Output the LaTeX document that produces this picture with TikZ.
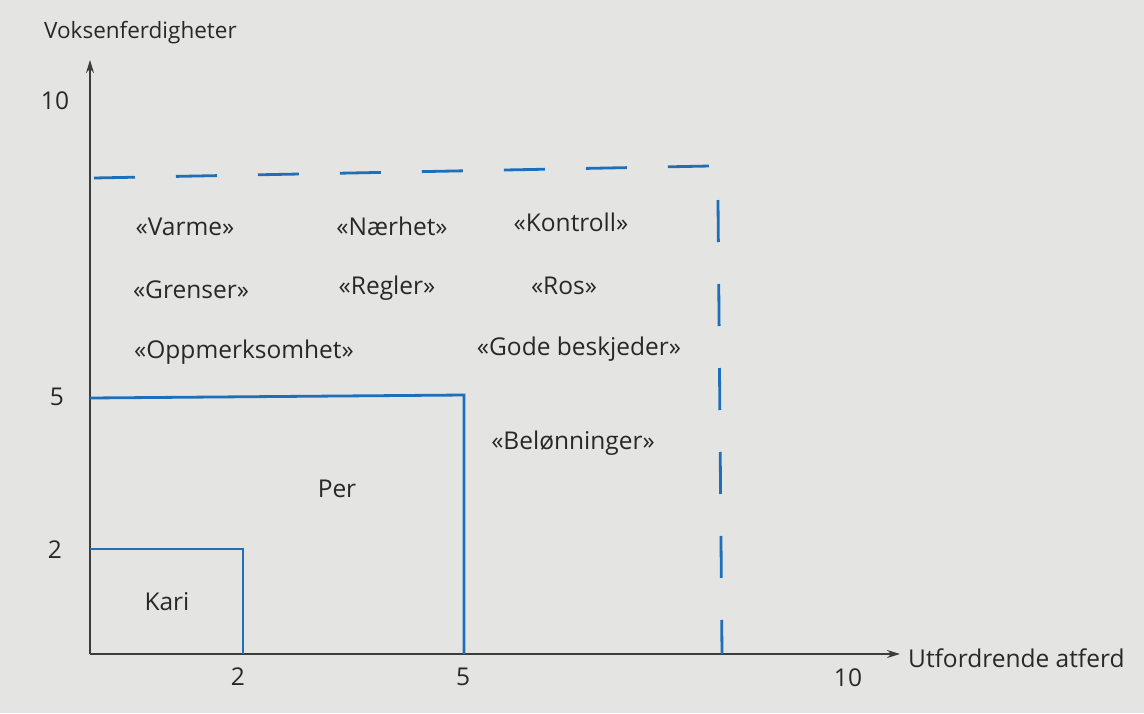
\documentclass[tikz,border=0pt]{standalone}
\usepackage{fontspec}
\setmainfont{Open Sans}
\usetikzlibrary{arrows.meta}
\definecolor{paper}{RGB}{228,228,226}
\definecolor{ink}{RGB}{40,40,40}
\definecolor{axisgray}{RGB}{60,60,60}
\definecolor{chartblue}{RGB}{30,110,185}
\tikzset{
  axisline/.style={draw=axisgray, line width=1.6pt, -{Stealth[length=13pt,width=8pt]}},
  blueline/.style={draw=chartblue, line width=2.8pt},
  bluedash/.style={draw=chartblue, line width=2.8pt, dash pattern=on 41pt off 41pt},
  lbl/.style={text=ink, inner sep=0pt, font=\fontsize{24.5}{29}\selectfont},
  word/.style={lbl},
}
\begin{document}
\begin{tikzpicture}[x=1pt,y=-1pt]
\useasboundingbox (0,0) rectangle (1144,713);
\fill[paper] (0,0) rectangle (1144,713);

% axes
\coordinate (O) at (90,654);
\coordinate (ytip) at (90,60);
\coordinate (xtip) at (900,654);
\draw[axisline] (O) -- (ytip);
\draw[axisline] (O) -- (xtip);

\node[lbl, anchor=west, font=\fontsize{22.5}{27}\selectfont] (ylab) at (44,33) {Voksenferdigheter};
\node[lbl, anchor=west] (xlab) at (908,658) {Utfordrende atferd};

% tick numbers
\node[lbl] (y10) at (55,101) {10};
\node[lbl] (y5)  at (57,397) {5};
\node[lbl] (y2)  at (55,550) {2};
\node[lbl] (x2)  at (238,677) {2};
\node[lbl] (x5)  at (463,677) {5};
\node[lbl] (x10) at (848,678) {10};

% Kari and Per
\coordinate (kariA) at (90,549);
\coordinate (kariB) at (243,549);
\coordinate (kariC) at (243,654);
\draw[blueline] (kariA) -- (kariB) -- (kariC);
\coordinate (perA) at (90,398);
\coordinate (perB) at (464,395);
\coordinate (perC) at (464,654);
\draw[blueline] (perA) -- (perB) -- (perC);
\node[lbl] (kari) at (167,602) {Kari};
\node[lbl] (per)  at (337,489) {Per};

% dashed limits
\coordinate (hA) at (94,178);
\coordinate (hB) at (710,166);
\draw[bluedash] (hA) -- (hB);
\coordinate (vA) at (718,200);
\coordinate (vB) at (722,654);
\draw[bluedash, dash pattern=on 42pt off 42pt] (vA) -- (vB);

% words
\node[word] (varme)   at (185,227) {«Varme»};
\node[word] (naerhet) at (392,226) {«Nærhet»};
\node[word] (kontroll) at (571,222) {«Kontroll»};
\node[word] (grenser) at (191,290) {«Grenser»};
\node[word] (regler)  at (387,288) {«Regler»};
\node[word] (ros)     at (564,286) {«Ros»};
\node[word] (oppm)    at (244,352) {«Oppmerksomhet»};
\node[word] (gode)    at (579,349) {«Gode beskjeder»};
\node[word] (belon)   at (573,443) {«Belønninger»};
\end{tikzpicture}
\end{document}
